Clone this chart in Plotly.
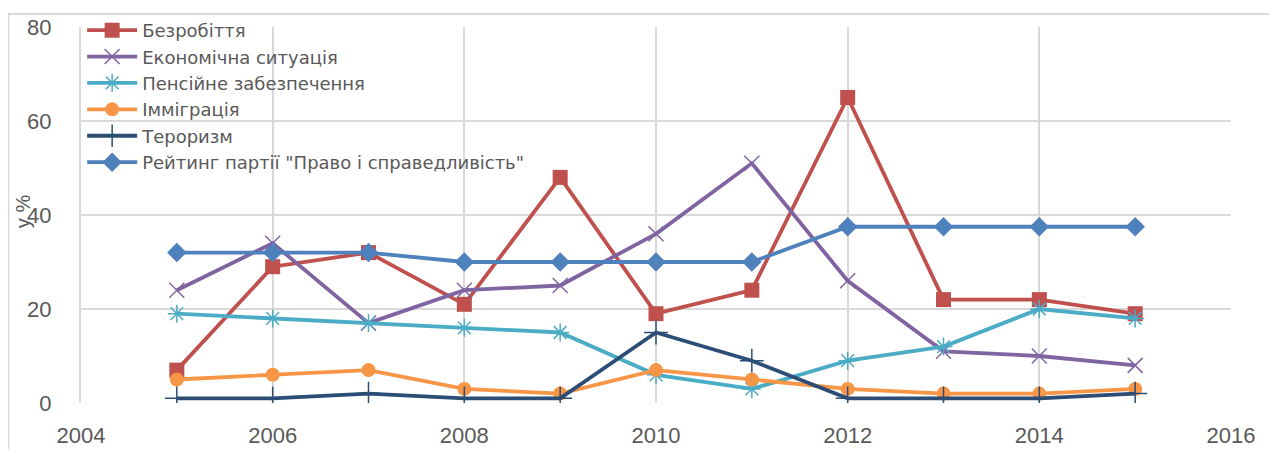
import plotly.graph_objects as go

years = [2005, 2006, 2007, 2008, 2009, 2010, 2011, 2012, 2013, 2014, 2015]
unemployment = [7, 29, 32, 21, 48, 19, 24, 65, 22, 22, 19]
economy = [24, 34, 17, 24, 25, 36, 51, 26, 11, 10, 8]
pensions = [19, 18, 17, 16, 15, 6, 3, 9, 12, 20, 18]
immigration = [5, 6, 7, 3, 2, 7, 5, 3, 2, 2, 3]
terrorism = [1, 1, 2, 1, 1, 15, 9, 1, 1, 1, 2]
pis_rating = [32, 32, 32, 30, 30, 30, 30, 37.5, 37.5, 37.5, 37.5]

names = ["Безробіття", "Економічна ситуація", "Пенсійне забезпечення",
         "Імміграція", "Тероризм", "Рейтинг партії \"Право і справедливість\""]
series = [unemployment, economy, pensions, immigration, terrorism, pis_rating]
colors = ["#C0504D", "#8064A2", "#4BACC6", "#F79646", "#2C4D75", "#4F81BD"]
symbols = ["square", "x-thin-open", "asterisk-open", "circle", "cross-thin-open", "diamond"]
sizes = [15, 15, 15, 14, 17, 15]

fig = go.Figure()
for n, s, c, sym, sz in zip(names, series, colors, symbols, sizes):
    open_sym = sym.endswith("open")
    fig.add_trace(go.Scatter(
        x=years, y=s, name=n, mode="lines+markers",
        line=dict(color=c, width=3.8),
        marker=dict(symbol=sym, size=sz, color=c,
                    line=dict(color=c, width=1.5 if open_sym else 0)),
    ))

FONT = "Liberation Sans"
# the page body has an 8px margin, so the figure is sized/offset to compensate
fig.update_layout(
    width=1269, height=441,
    margin=dict(l=73, r=46, t=19, b=46, autoexpand=False),
    paper_bgcolor="white", plot_bgcolor="white",
    font=dict(family=FONT, size=22, color="#595959"),
    legend=dict(x=0.001, y=1.04, xanchor="left", yanchor="top",
                bgcolor="rgba(255,255,255,0)",
                font=dict(family="DejaVu Sans", size=18, color="#595959"),
                tracegroupgap=0, itemwidth=50),
    showlegend=True,
    shapes=[dict(type="rect", xref="paper", yref="paper",
                 x0=-0.0632, x1=1.0345, y0=-0.3, y1=1.0346,
                 line=dict(color="#D9D9D9", width=2), fillcolor="rgba(0,0,0,0)",
                 layer="above")],
    annotations=[dict(text="у %", xref="paper", yref="paper", x=-0.0505, y=0.51,
                      textangle=-90, showarrow=False, xanchor="center", yanchor="middle",
                      font=dict(family=FONT, size=20, color="#595959"))],
)
fig.update_xaxes(range=[2004, 2016], dtick=2, tick0=2004, showgrid=True,
                 gridcolor="#D9D9D9", gridwidth=2, zeroline=False,
                 showline=False, ticks="", ticklabelstandoff=17)
fig.update_yaxes(range=[0, 80], dtick=20, showgrid=True, gridcolor="#D9D9D9",
                 gridwidth=2, zeroline=False, showline=True, linecolor="#D9D9D9",
                 linewidth=2, ticks="", ticklabelstandoff=23)

fig.write_html("out.html")
